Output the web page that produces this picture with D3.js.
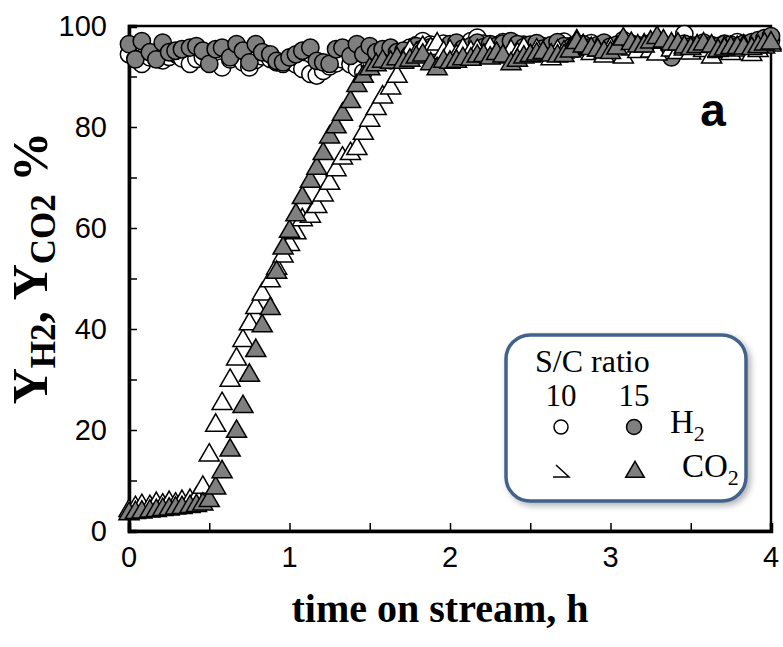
<!DOCTYPE html>
<html>
<head>
<meta charset="utf-8">
<script src="https://cdnjs.cloudflare.com/ajax/libs/d3/7.8.5/d3.min.js"></script>
<style>
  body { margin: 0; background: #fff; }
</style>
</head>
<body>
<div id="chart"></div>
<script>
// time on stream (h)
var times = [0.00, 0.04, 0.08, 0.13, 0.17, 0.21, 0.25, 0.29, 0.33, 0.38, 0.42, 0.46, 0.50, 0.54, 0.58, 0.63,
  0.67, 0.71, 0.75, 0.79, 0.83, 0.88, 0.92, 0.96, 1.00, 1.04, 1.08, 1.13, 1.17, 1.21, 1.25, 1.29,
  1.33, 1.38, 1.42, 1.46, 1.50, 1.54, 1.58, 1.63, 1.67, 1.71, 1.75, 1.79, 1.83, 1.88, 1.92, 1.96,
  2.00, 2.04, 2.08, 2.13, 2.17, 2.21, 2.25, 2.29, 2.33, 2.38, 2.42, 2.46, 2.50, 2.54, 2.58, 2.63,
  2.67, 2.71, 2.75, 2.79, 2.83, 2.88, 2.92, 2.96, 3.00, 3.04, 3.08, 3.13, 3.17, 3.21, 3.25, 3.29,
  3.33, 3.38, 3.42, 3.46, 3.50, 3.54, 3.58, 3.63, 3.67, 3.71, 3.75, 3.79, 3.83, 3.88, 3.92, 3.96, 4.00];

// H2 yield, S/C = 10 (open circles)
var h2SC10 = [94.4, 93.5, 92.5, 93.8, 94.2, 93.2, 93.9, 94.5, 93.6, 92.5, 93.5, 93.8, 94.2, 93.0, 91.8, 93.4,
  94.0, 92.8, 91.8, 93.3, 94.0, 93.5, 92.8, 92.5, 93.7, 92.4, 91.5, 90.5, 90.2, 91.1, 92.0, 92.6,
  93.4, 92.4, 91.6, 90.8, 92.3, 93.5, 94.0, 93.2, 94.2, 95.0, 95.7, 96.2, 97.0, 96.3, 95.8, 96.5,
  96.0, 95.5, 96.2, 97.0, 97.7, 96.5, 95.7, 96.2, 96.8, 96.0, 95.4, 96.3, 95.8, 96.5, 96.0, 95.6,
  96.4, 96.9, 96.0, 95.5, 96.2, 96.6, 95.9, 96.3, 95.7, 96.2, 97.2, 96.4, 95.8, 96.0, 96.6, 97.0,
  96.3, 95.8, 96.4, 98.4, 96.2, 95.6, 96.4, 96.0, 95.8, 96.5, 96.2, 96.8, 95.9, 96.4, 96.1, 96.6, 97.2];

// H2 yield, S/C = 15 (grey circles)
var h2SC15 = [96.4, 93.4, 97.0, 94.8, 93.4, 96.7, 94.8, 95.1, 95.4, 95.7, 96.0, 95.1, 92.5, 95.4, 95.7, 93.8,
  96.4, 95.1, 92.8, 96.4, 94.8, 94.4, 93.1, 92.8, 93.8, 94.4, 95.1, 95.7, 93.1, 92.8, 92.5, 95.4,
  95.7, 94.1, 96.4, 94.4, 96.0, 94.8, 95.4, 95.7, 94.8, 95.1, 94.4, 96.0, 95.5, 95.8, 94.8, 95.4,
  96.4, 96.7, 95.5, 96.0, 96.7, 95.8, 96.4, 96.0, 96.5, 97.0, 96.4, 95.8, 96.3, 96.6, 95.5, 96.2,
  96.8, 96.0, 95.7, 96.5, 96.4, 95.8, 96.2, 96.7, 95.9, 96.3, 96.0, 96.5, 96.2, 95.7, 96.3, 95.6,
  95.8, 93.8, 96.2, 96.5, 95.9, 96.1, 96.7, 96.2, 96.0, 96.4, 96.3, 95.9, 96.5, 96.8, 97.2, 97.6, 98.0];

// CO2 yield, S/C = 10 (open triangles)
var co2SC10 = [4.0, 4.6, 5.0, 4.8, 5.4, 5.1, 5.6, 5.3, 5.8, 6.0, 6.4, 8.6, 15.0, 20.9, 25.2, 29.8,
  34.0, 37.7, 41.0, 44.2, 46.9, 49.5, 52.0, 54.4, 56.7, 59.0, 61.6, 62.3, 64.2, 66.5, 68.8, 71.5,
  73.8, 74.7, 75.7, 78.7, 81.3, 83.6, 85.9, 87.7, 90.0, 93.0, 95.0, 94.5, 95.7, 95.5, 96.4, 94.7,
  95.0, 94.0, 95.3, 94.8, 95.1, 94.2, 95.6, 94.5, 93.8, 95.0, 94.4, 95.5, 94.0, 95.2, 94.6, 93.5,
  95.0, 94.8, 95.4, 97.0, 96.0, 94.5, 95.2, 94.0, 95.5, 94.8, 93.8, 95.4, 94.9, 96.2, 95.0, 94.4,
  96.8, 95.2, 94.7, 95.4, 94.6, 96.0, 95.1, 93.8, 94.9, 95.6, 94.5, 95.2, 96.0, 94.3, 95.1, 95.8, 96.2];

// CO2 yield, S/C = 15 (grey triangles)
var co2SC15 = [3.4, 3.6, 3.7, 3.9, 4.0, 4.2, 4.3, 4.5, 4.6, 4.8, 5.0, 5.3, 6.0, 8.5, 11.7, 16.0,
  19.7, 24.6, 30.8, 35.7, 40.6, 44.0, 51.2, 56.0, 59.3, 62.6, 66.0, 69.2, 71.8, 74.7, 78.0, 80.0,
  82.5, 85.0, 88.2, 90.0, 91.5, 92.3, 93.0, 92.8, 93.5, 92.8, 93.2, 93.8, 94.2, 92.5, 91.5, 93.0,
  92.8, 93.0, 93.5, 93.4, 94.0, 94.1, 93.6, 94.5, 94.0, 92.5, 93.2, 93.8, 94.1, 94.4, 94.7, 94.2,
  94.0, 94.1, 95.0, 96.7, 96.0, 95.5, 95.2, 94.8, 94.7, 95.6, 97.4, 96.5, 96.0, 96.0, 96.8, 97.7,
  97.0, 96.4, 96.4, 95.8, 95.5, 95.9, 96.4, 96.0, 95.1, 95.4, 95.7, 95.7, 95.6, 95.5, 95.9, 96.4, 96.6];

var xTicks = [0, 1, 2, 3, 4];
var yTicks = [0, 20, 40, 60, 80, 100];

//Dimensions
var width = 783, height = 647;
var margin = { top: 26, right: 12, bottom: 116, left: 129 };

var svg = d3.select("#chart")
  .append("svg")
  .attr("width", width)
  .attr("height", height);

var x = d3.scaleLinear().domain([0, 4]).range([margin.left, width - margin.right]);
var y = d3.scaleLinear().domain([0, 100]).range([height - margin.bottom, margin.top]);

var tickFont = "'Liberation Sans', Arial, sans-serif";
var serif = "'Liberation Serif', 'Times New Roman', serif";

//Frame (top and right)
svg.append("rect")
  .attr("x", x(0))
  .attr("y", y(100))
  .attr("width", x(4) - x(0))
  .attr("height", y(0) - y(100))
  .attr("fill", "none")
  .attr("stroke", "#000")
  .attr("stroke-width", 2.5);

//X axis, ticks inward
var xAxis = svg.append("g")
  .attr("transform", "translate(0," + y(0) + ")")
  .call(d3.axisTop(x).tickValues(d3.range(0, 4.01, 0.5)).tickSize(8).tickFormat(""));
xAxis.select(".domain").attr("stroke-width", 3.5);
xAxis.selectAll(".tick line").attr("stroke-width", 1.5);

svg.selectAll(".xlab")
  .data(xTicks)
  .enter()
  .append("text")
  .attr("x", function(d) { return x(d); })
  .attr("y", y(0) + 36)
  .attr("text-anchor", "middle")
  .style("font-family", tickFont)
  .style("font-size", "29px")
  .text(function(d) { return d; });

//Y axis, ticks inward
var yAxis = svg.append("g")
  .attr("transform", "translate(" + x(0) + ",0)")
  .call(d3.axisRight(y).tickValues(d3.range(0, 101, 10)).tickSize(8).tickFormat(""));
yAxis.select(".domain").attr("stroke-width", 3.5);
yAxis.selectAll(".tick line").attr("stroke-width", 1.5);

svg.selectAll(".ylab")
  .data(yTicks)
  .enter()
  .append("text")
  .attr("x", x(0) - 22)
  .attr("y", function(d) { return y(d) + 10; })
  .attr("text-anchor", "end")
  .style("font-family", tickFont)
  .style("font-size", "29px")
  .text(function(d) { return d; });

//Axis titles
svg.append("text")
  .attr("x", 440)
  .attr("y", 622)
  .attr("text-anchor", "middle")
  .style("font-family", serif)
  .style("font-weight", "bold")
  .style("font-size", "40px")
  .text("time on stream, h");

var yTitle = svg.append("text")
  .attr("transform", "translate(47,268) rotate(-90)")
  .attr("text-anchor", "middle")
  .style("font-family", serif)
  .style("font-weight", "bold")
  .style("font-size", "50px");
yTitle.append("tspan").text("Y");
yTitle.append("tspan").attr("dy", 8).style("font-size", "35px").text("H2");
yTitle.append("tspan").attr("dy", -8).text(", Y");
yTitle.append("tspan").attr("dy", 8).style("font-size", "35px").text("CO2");
yTitle.append("tspan").attr("dy", -8).text(" %");

//Panel letter
svg.append("text")
  .attr("x", 713)
  .attr("y", 126)
  .attr("text-anchor", "middle")
  .style("font-family", tickFont)
  .style("font-weight", "bold")
  .style("font-size", "46px")
  .text("a");

//Markers
var circle = d3.symbol().type(d3.symbolCircle).size(235);
var triangle = d3.symbol().type(d3.symbolTriangle).size(175);

var series = [
  { values: h2SC10, shape: circle, fill: "#fff" },
  { values: h2SC15, shape: circle, fill: "#7f7f7f" },
  { values: co2SC10, shape: triangle, fill: "#fff" },
  { values: co2SC15, shape: triangle, fill: "#7f7f7f" }
];

series.forEach(function(s) {
  svg.append("g")
    .selectAll("path")
    .data(s.values)
    .enter()
    .append("path")
    .attr("d", s.shape)
    .attr("transform", function(d, i) { return "translate(" + x(times[i]) + "," + y(d) + ")"; })
    .attr("fill", s.fill)
    .attr("stroke", "#000")
    .attr("stroke-width", 1.5);
});

//Legend
var defs = svg.append("defs");
defs.append("filter")
  .attr("id", "shadow")
  .attr("x", "-10%").attr("y", "-10%").attr("width", "130%").attr("height", "130%")
  .append("feDropShadow")
  .attr("dx", 3).attr("dy", 3).attr("stdDeviation", 3)
  .attr("flood-color", "#000").attr("flood-opacity", 0.3);

var legend = svg.append("g").attr("transform", "translate(506,335)");
legend.append("rect")
  .attr("width", 240)
  .attr("height", 166)
  .attr("rx", 24)
  .attr("fill", "#fff")
  .attr("stroke", "#41628c")
  .attr("stroke-width", 3.5)
  .attr("filter", "url(#shadow)");

legend.append("text")
  .attr("x", 29).attr("y", 37)
  .style("font-family", serif).style("font-size", "32px")
  .text("S/C ratio");
legend.selectAll(".sc")
  .data(["10", "15"])
  .enter()
  .append("text")
  .attr("x", function(d, i) { return 55 + i * 73; })
  .attr("y", 71)
  .attr("text-anchor", "middle")
  .style("font-family", serif).style("font-size", "31px")
  .text(function(d) { return d; });

legend.append("circle").attr("cx", 55).attr("cy", 92).attr("r", 7)
  .attr("fill", "#fff").attr("stroke", "#000").attr("stroke-width", 1.5);
legend.append("circle").attr("cx", 128).attr("cy", 92).attr("r", 7.5)
  .attr("fill", "#7f7f7f").attr("stroke", "#000").attr("stroke-width", 1.5);

// broken open-triangle glyph as in the original legend
legend.append("path")
  .attr("d", "M50,130 L63,142 L47,142")
  .attr("fill", "none").attr("stroke", "#000").attr("stroke-width", 1.5);
legend.append("path")
  .attr("d", d3.symbol().type(d3.symbolTriangle).size(150))
  .attr("transform", "translate(129,137)")
  .attr("fill", "#7f7f7f").attr("stroke", "#000").attr("stroke-width", 1.5);

var h2Lab = legend.append("text")
  .attr("x", 164).attr("y", 98)
  .style("font-family", serif).style("font-size", "33px");
h2Lab.append("tspan").text("H");
h2Lab.append("tspan").attr("dy", 8).style("font-size", "22px").text("2");

var co2Lab = legend.append("text")
  .attr("x", 176).attr("y", 142)
  .style("font-family", serif).style("font-size", "33px");
co2Lab.append("tspan").text("CO");
co2Lab.append("tspan").attr("dy", 8).style("font-size", "22px").text("2");
</script>
</body>
</html>
